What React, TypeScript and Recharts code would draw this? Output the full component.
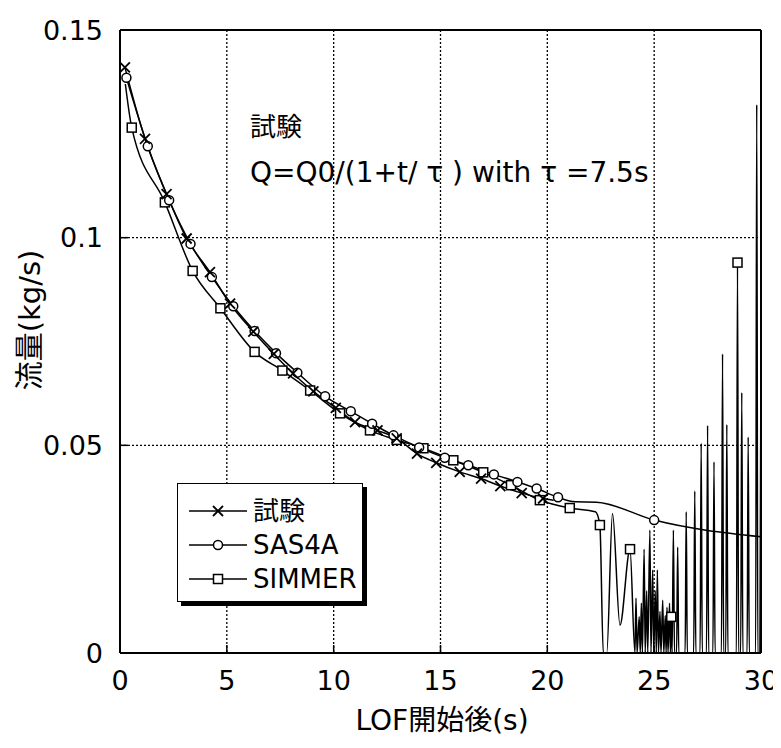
import {
  ComposedChart, Line, XAxis, YAxis, CartesianGrid, ReferenceLine, Legend, Label,
} from "recharts";

const FONT = '"DejaVu Sans", "Noto Sans CJK JP", sans-serif';

const xTicks = [0, 5, 10, 15, 20, 25, 30];
const yTicks = [0, 0.05, 0.1, 0.15];
const seriesNames = ["試験", "SAS4A", "SIMMER"];

// [t (s), flow (kg/s), marker?]
const testPts = [
  [0.23, 0.141, 1], [1.17, 0.1238, 1], [2.18, 0.1105, 1], [3.12, 0.0998, 1],
  [4.21, 0.0917, 1], [5.15, 0.0841, 1], [6.24, 0.0774, 1], [7.2, 0.072, 1],
  [8.1, 0.0673, 1], [9.05, 0.063, 1], [10.1, 0.059, 1], [11.0, 0.0556, 1],
  [12.05, 0.0536, 1], [12.95, 0.0517, 1], [13.9, 0.048, 1], [14.8, 0.0458, 1],
  [15.9, 0.0436, 1], [16.9, 0.042, 1], [17.8, 0.0402, 1], [18.8, 0.0385, 1],
  [19.8, 0.0372, 1], [20.3, 0.0368, 0],
];

const sasPts = [
  [0.3, 0.1385, 1], [1.3, 0.122, 1], [2.3, 0.109, 1], [3.3, 0.0985, 1],
  [4.3, 0.0905, 1], [5.3, 0.0835, 1], [6.3, 0.0775, 1], [7.3, 0.0722, 1],
  [8.3, 0.0675, 1], [9.6, 0.0618, 1], [10.8, 0.0582, 1], [11.8, 0.0552, 1],
  [12.8, 0.0524, 1], [14.0, 0.0495, 1], [15.2, 0.047, 1], [16.3, 0.0452, 1],
  [17.5, 0.043, 1], [18.6, 0.0412, 1], [19.5, 0.0396, 1], [20.5, 0.0375, 1],
  [21.3, 0.0364, 0], [22.3, 0.0363, 0], [25.0, 0.032, 1], [30.0, 0.028, 0],
];

const simmerPts = [
  [0.25, 0.137, 0], [0.55, 0.1265, 1], [2.1, 0.1085, 1], [3.4, 0.092, 1],
  [4.7, 0.083, 1], [6.3, 0.0725, 1], [7.6, 0.068, 1], [8.9, 0.0632, 1],
  [10.3, 0.0577, 1], [11.7, 0.0536, 1], [12.95, 0.0513, 1], [14.2, 0.0493, 1],
  [15.6, 0.0464, 1], [17.0, 0.0435, 1], [18.3, 0.0404, 1], [19.65, 0.0368, 1],
  [21.05, 0.0349, 1], [22.25, 0.034, 0], [22.46, 0.0308, 1], [22.62, 0, 0],
  [22.78, 0, 0], [23.05, 0.0336, 0], [23.4, 0.0067, 0], [23.87, 0.025, 1],
  [24.1, 0, 0], [24.15, 0.0132, 0], [24.2, 0, 0], [24.3, 0.0087, 0],
  [24.35, 0, 0], [24.4, 0.012, 0], [24.45, 0, 0], [24.53, 0.025, 0],
  [24.58, 0, 0], [24.65, 0.015, 0], [24.7, 0, 0], [24.8, 0.0296, 0],
  [24.85, 0, 0], [24.93, 0.02, 0], [24.98, 0, 0], [25.05, 0.015, 0],
  [25.1, 0, 0], [25.15, 0.02, 0], [25.2, 0, 0], [25.27, 0.01, 0],
  [25.32, 0, 0], [25.4, 0.0127, 0], [25.45, 0, 0], [25.52, 0.009, 0],
  [25.56, 0, 0], [25.6, 0.011, 0], [25.65, 0, 0], [25.72, 0.012, 0],
  [25.76, 0, 0], [25.8, 0.0087, 1], [25.84, 0, 0], [25.9, 0.0296, 0],
  [25.95, 0, 0], [26.05, 0, 0], [26.1, 0.0255, 0], [26.15, 0, 0],
  [26.45, 0, 0], [26.5, 0.034, 0], [26.55, 0, 0], [26.85, 0, 0],
  [26.9, 0.039, 0], [26.95, 0, 0], [27.15, 0, 0], [27.2, 0.0505, 0],
  [27.25, 0, 0], [27.45, 0, 0], [27.5, 0.0548, 0], [27.55, 0, 0],
  [27.75, 0, 0], [27.8, 0.046, 0], [27.85, 0, 0], [28.15, 0, 0],
  [28.2, 0.072, 0], [28.25, 0, 0], [28.35, 0, 0], [28.4, 0.055, 0],
  [28.45, 0, 0], [28.85, 0, 0], [28.9, 0.094, 1], [28.95, 0, 0],
  [29.05, 0, 0], [29.1, 0.0627, 0], [29.15, 0, 0], [29.35, 0, 0],
  [29.4, 0.052, 0], [29.45, 0, 0], [29.75, 0, 0], [29.8, 0.132, 0],
  [29.85, 0, 0], [29.95, 0, 0], [30.0, 0.075, 0],
];

const toRows = (pts: number[][]) => pts.map(([t, v, m]) => ({ t, v, m: m === 1 }));

type Kind = "cross" | "circle" | "square";

function Marker({ kind, x, y }: { kind: Kind; x: number; y: number }) {
  if (kind === "cross") {
    return (
      <g stroke="#000" strokeWidth={1.8}>
        <line x1={x - 5} y1={y - 5} x2={x + 5} y2={y + 5} />
        <line x1={x - 5} y1={y + 5} x2={x + 5} y2={y - 5} />
      </g>
    );
  }
  if (kind === "circle") {
    return <circle cx={x} cy={y} r={4.5} fill="#fff" stroke="#000" strokeWidth={1.5} />;
  }
  return <rect x={x - 4.5} y={y - 4.5} width={9} height={9} fill="#fff" stroke="#000" strokeWidth={1.5} />;
}

const makeDot = (kind: Kind) => (props: any) => {
  const { cx, cy, payload, index } = props;
  if (!payload || !payload.m || cx == null || cy == null) return <g key={`n-${kind}-${index}`} />;
  return <Marker key={`m-${kind}-${index}`} kind={kind} x={cx} y={cy} />;
};

const kinds: Kind[] = ["cross", "circle", "square"];

function LegendBox() {
  return (
    <div style={{
      width: 186, height: 119, boxSizing: "border-box", border: "1.5px solid #000",
      boxShadow: "4px 4px 0 #000", background: "#fff", paddingTop: 10,
    }}>
      {seriesNames.map((name, i) => (
        <div key={name} style={{ display: "flex", alignItems: "center", height: 34 }}>
          <svg width={72} height={34}>
            <line x1={11} y1={17} x2={69} y2={17} stroke="#000" strokeWidth={1.5} />
            <Marker kind={kinds[i]} x={40} y={17} />
          </svg>
          <span style={{ fontSize: 26, fontFamily: FONT, marginLeft: 3, lineHeight: 1 }}>{name}</span>
        </div>
      ))}
    </div>
  );
}

const tickStyle = { fontSize: 27, fill: "#000", fontFamily: FONT };

function App() {
  return (
    <div style={{ position: "relative", width: 773, height: 740, fontFamily: FONT }}>
      <ComposedChart width={773} height={740} margin={{ top: 22, right: 20, left: 0, bottom: 0 }}>
        <CartesianGrid stroke="#000" strokeWidth={1.3} strokeDasharray="2 2" />
        <XAxis
          dataKey="t" type="number" domain={[0, 30]} ticks={xTicks} height={95}
          allowDataOverflow tick={tickStyle} tickSize={-8} tickMargin={26}
          axisLine={{ stroke: "#000", strokeWidth: 2 }} tickLine={{ stroke: "#000", strokeWidth: 1.5 }}
        >
          <Label content={() => (
            <text x={434} y={712} textAnchor="middle" dominantBaseline="central"
              fontSize={28} fontFamily={FONT} fill="#000">LOF開始後(s)</text>
          )} />
        </XAxis>
        <YAxis
          dataKey="v" type="number" domain={[0, 0.15]} ticks={yTicks} width={112}
          tick={tickStyle} tickSize={-8} tickMargin={25} tickFormatter={(v: number) => String(v)}
          axisLine={{ stroke: "#000", strokeWidth: 2 }} tickLine={{ stroke: "#000", strokeWidth: 1.5 }}
        >
          <Label content={() => (
            <text x={22} y={312} textAnchor="middle" dominantBaseline="central"
              transform="rotate(-90 22 312)" fontSize={29} fontFamily={FONT} fill="#000">流量(kg/s)</text>
          )} />
        </YAxis>
        <ReferenceLine y={0.15} stroke="#000" strokeWidth={2} />
        <ReferenceLine x={30} stroke="#000" strokeWidth={2} />
        <Legend
          layout="horizontal" verticalAlign="middle" align="center"
          wrapperStyle={{ left: 169, top: 475, width: 192, height: 125 }}
          content={() => <LegendBox />}
        />
        <Line data={toRows(simmerPts)} dataKey="v" type="monotone" stroke="#000" strokeWidth={1.5}
          dot={makeDot("square")} activeDot={false} isAnimationActive={false} legendType="none" />
        <Line data={toRows(sasPts)} dataKey="v" type="monotone" stroke="#000" strokeWidth={1.5}
          dot={makeDot("circle")} activeDot={false} isAnimationActive={false} legendType="none" />
        <Line data={toRows(testPts)} dataKey="v" type="monotone" stroke="#000" strokeWidth={1.5}
          dot={makeDot("cross")} activeDot={false} isAnimationActive={false} legendType="none" />
      </ComposedChart>
      <div style={{ position: "absolute", left: 242, top: 106, fontSize: 26, lineHeight: 1 }}>試験</div>
      <div style={{ position: "absolute", left: 242, top: 151, fontSize: 28, lineHeight: 1, whiteSpace: "nowrap" }}>
        Q=Q0/(1+t/ τ ) with τ =7.5s
      </div>
    </div>
  );
}

export default App;
